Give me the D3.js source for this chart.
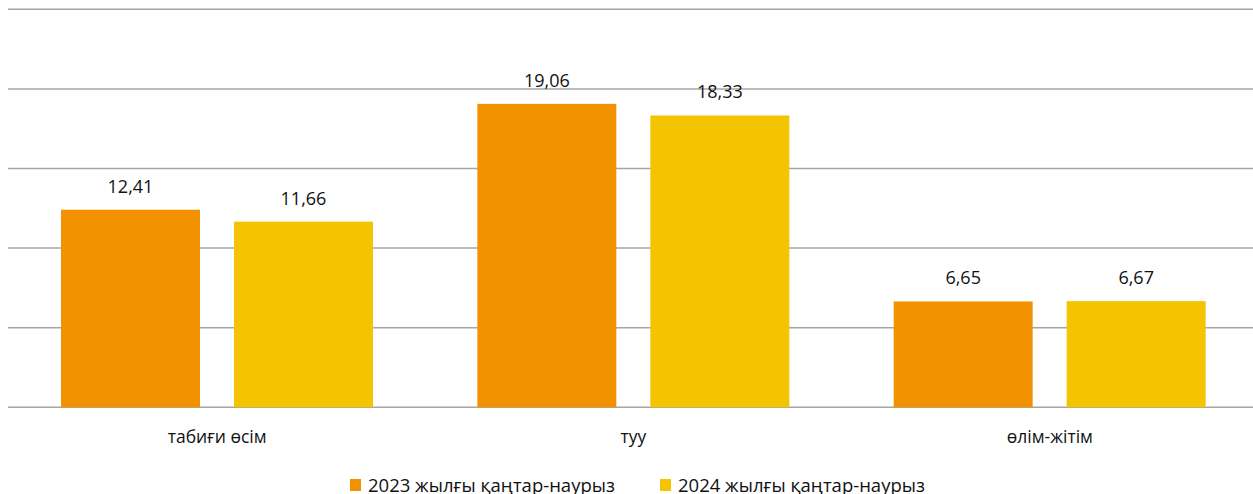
<!DOCTYPE html>
<html>
<head>
<meta charset="utf-8">
<title>Bar chart</title>
<style>
  body { margin: 0; background: #fff; }
  svg text { font-family: "Open Sans", "Noto Sans", sans-serif; fill: #111; }
</style>
</head>
<body>
<svg id="chart" width="1253" height="494"></svg>
<script src="https://cdn.jsdelivr.net/npm/d3@7/dist/d3.min.js"></script>
<script>
  // data
  var categories = ['табиғи өсім', 'туу', 'өлім-жітім'];
  var seriesNames = ['2023 жылғы қаңтар-наурыз', '2024 жылғы қаңтар-наурыз'];
  var values2023 = [12.41, 19.06, 6.65];
  var values2024 = [11.66, 18.33, 6.67];
  var yTicks = [0, 5, 10, 15, 20, 25];
  var colors = ['#F39200', '#F5C400'];

  var svg = d3.select('#chart');
  var plotLeft = 9, plotRight = 1258, plotTop = 9.3, plotBottom = 407.3;

  var x0 = d3.scaleBand().domain(categories).range([plotLeft, plotRight]);
  // two bars of 139px with a 34px gap, centred in each 416px band
  var x1 = d3.scaleBand().domain([0, 1]).range([52, 364]).paddingInner(34 / 173);
  var y = d3.scaleLinear().domain([0, 25]).range([plotBottom, plotTop]);

  // gridlines
  svg.append('g')
    .selectAll('line')
    .data(yTicks)
    .enter()
    .append('line')
    .attr('x1', 8)
    .attr('x2', 1253)
    .attr('y1', function (d) { return y(d); })
    .attr('y2', function (d) { return y(d); })
    .style('stroke', '#a6a6a6')
    .style('stroke-width', 1.5);

  var rows = categories.map(function (c, i) {
    return { cat: c, vals: [values2023[i], values2024[i]] };
  });

  var groups = svg.append('g')
    .selectAll('g')
    .data(rows)
    .enter()
    .append('g')
    .attr('transform', function (d) { return 'translate(' + x0(d.cat) + ',0)'; });

  groups.selectAll('rect')
    .data(function (d) { return d.vals; })
    .enter()
    .append('rect')
    .attr('x', function (d, i) { return x1(i); })
    .attr('width', x1.bandwidth())
    .attr('y', function (d) { return y(d); })
    .attr('height', function (d) { return plotBottom - y(d); })
    .style('fill', function (d, i) { return colors[i]; });

  groups.selectAll('text.val')
    .data(function (d) { return d.vals; })
    .enter()
    .append('text')
    .attr('class', 'val')
    .attr('x', function (d, i) { return x1(i) + x1.bandwidth() / 2; })
    .attr('y', function (d) { return y(d) - 17; })
    .attr('text-anchor', 'middle')
    .style('font-size', '18px')
    .text(function (d) { return d.toFixed(2).replace('.', ','); });

  // category labels
  groups.append('text')
    .attr('x', x0.bandwidth() / 2)
    .attr('y', 443)
    .attr('text-anchor', 'middle')
    .style('font-size', '17.5px')
    .text(function (d) { return d.cat; });

  // legend
  var legendX = [350, 660];
  var legend = svg.append('g')
    .selectAll('g')
    .data(seriesNames)
    .enter()
    .append('g')
    .attr('transform', function (d, i) { return 'translate(' + legendX[i] + ',0)'; });

  legend.append('rect')
    .attr('x', 0)
    .attr('y', 479)
    .attr('width', 11)
    .attr('height', 12)
    .style('fill', function (d, i) { return colors[i]; });

  legend.append('text')
    .attr('x', 18)
    .attr('y', 492)
    .style('font-size', '18.5px')
    .text(function (d) { return d; });
</script>
</body>
</html>
